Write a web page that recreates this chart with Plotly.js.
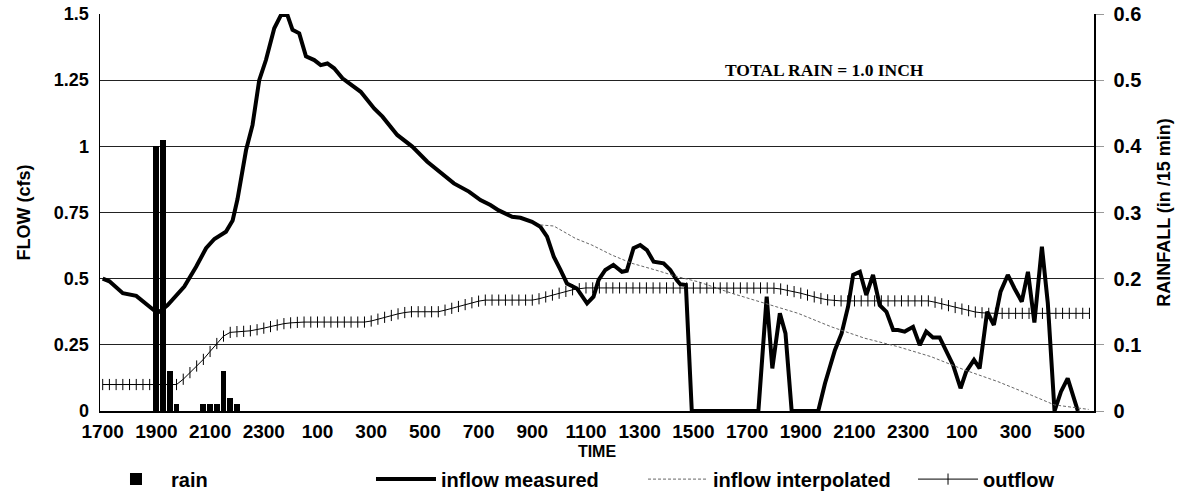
<!DOCTYPE html>
<html><head><meta charset="utf-8">
<script src="https://cdn.plot.ly/plotly-3.0.1.min.js"></script>
<style>html,body{margin:0;padding:0;background:#fff}#chart{width:1177px;height:497px}</style>
</head><body><div id="chart"></div>
<script>
// Time axis: hours after 17:00 on day 1
const timeLabelHours = [0,2,4,6,8,10,12,14,16,18,20,22,24,26,28,30,32,34,36];
const timeLabels = ['1700','1900','2100','2300','100','300','500','700','900','1100','1300','1500','1700','1900','2100','2300','100','300','500'];

const flowTickVals = [0,0.25,0.5,0.75,1,1.25,1.5];
const flowTickText = ['0','0.25','0.5','0.75','1','1.25','1.5'];
const rainTickVals = [0,0.1,0.2,0.3,0.4,0.5,0.6];
const rainTickText = ['0','0.1','0.2','0.3','0.4','0.5','0.6'];

// Rain (in / 15 min)
const rainHours = [2.0,2.25,2.5,2.75,3.75,4.0,4.25,4.5,4.75,5.0];
const rainValues = [0.40,0.41,0.06,0.01,0.01,0.01,0.01,0.06,0.02,0.01];

// Inflow measured (cfs)
const inflowMeasuredHours = [0.00,0.25,0.75,1.25,1.92,2.12,2.42,3.04,3.48,3.85,4.16,4.59,4.84,5.02,5.34,5.58,5.83,6.08,6.39,6.64,6.88,7.07,7.32,7.57,7.88,8.12,8.37,8.62,8.93,9.18,9.61,10.11,10.42,10.97,11.53,12.09,12.65,13.08,13.64,14.07,14.44,14.75,15.25,15.56,15.99,16.30,16.55,16.80,17.05,17.29,17.66,18.04,18.28,18.47,18.72,19.02,19.34,19.52,19.77,20.02,20.27,20.52,20.89,21.14,21.38,21.51,21.72,21.94,24.42,24.73,24.94,25.22,25.43,25.66,26.65,26.90,27.27,27.52,27.76,27.95,28.20,28.44,28.69,28.94,29.19,29.44,29.62,29.87,30.18,30.43,30.67,30.92,31.17,31.42,31.67,31.95,32.16,32.45,32.66,32.94,33.19,33.44,33.71,33.96,34.23,34.46,34.70,34.98,35.20,35.45,35.69,35.94,36.32];
const inflowMeasuredValues = [0.50,0.49,0.445,0.435,0.38,0.375,0.40,0.47,0.545,0.615,0.65,0.677,0.72,0.80,0.986,1.08,1.25,1.326,1.446,1.496,1.496,1.44,1.427,1.34,1.326,1.307,1.313,1.295,1.257,1.238,1.206,1.143,1.112,1.043,0.999,0.942,0.898,0.86,0.829,0.797,0.778,0.758,0.734,0.73,0.715,0.696,0.659,0.583,0.533,0.482,0.463,0.407,0.432,0.495,0.533,0.552,0.526,0.53,0.615,0.627,0.608,0.564,0.558,0.533,0.495,0.479,0.476,0,0,0.432,0.161,0.369,0.293,0,0,0.104,0.23,0.293,0.394,0.514,0.526,0.438,0.514,0.40,0.375,0.306,0.306,0.30,0.318,0.249,0.30,0.278,0.278,0.23,0.174,0.086,0.149,0.193,0.161,0.375,0.325,0.451,0.514,0.463,0.413,0.526,0.334,0.621,0.407,0,0.073,0.123,0];

// Inflow interpolated (cfs)
const inflowInterpHours = [16.30,16.80,17.61,18.22,18.97,19.71,20.58,21.42,22.19,23.42,24.66,25.90,27.14,28.38,29.62,30.86,32.10,33.34,34.58,35.45,36.72];
const inflowInterpValues = [0.703,0.699,0.652,0.627,0.589,0.558,0.533,0.507,0.488,0.445,0.407,0.369,0.318,0.275,0.243,0.205,0.155,0.111,0.06,0.023,0.006];

// Outflow (cfs), one reading every 15 minutes from 17:00
const outflowValues = [
0.100,0.100,0.100,0.100,0.100,0.100,0.100,0.100,0.100,0.100,0.100,0.100,
0.120,0.145,0.170,0.195,0.225,0.255,0.283,0.297,0.300,0.301,0.303,0.307,
0.313,0.319,0.325,0.330,0.333,0.335,
0.336,0.336,0.336,0.336,0.336,0.336,0.336,0.336,0.336,0.336,
0.340,0.347,0.354,0.361,0.367,0.372,0.375,
0.375,0.375,0.375,0.375,
0.381,0.388,0.395,0.402,0.409,0.415,
0.419,0.419,0.419,0.419,0.419,0.419,0.419,0.419,
0.424,0.431,0.438,0.445,0.452,0.458,0.462,
0.465,0.465,0.465,0.465,0.465,0.465,0.465,0.465,0.465,0.465,0.465,0.465,0.465,0.465,
0.465,0.465,0.465,0.465,0.465,0.465,0.465,0.465,0.465,0.465,0.465,0.465,0.465,0.465,
0.464,0.461,0.456,0.451,0.445,0.438,0.431,0.425,0.420,0.417,
0.416,0.416,0.416,0.416,0.416,0.416,0.416,0.416,0.416,0.416,0.416,0.416,0.416,0.416,
0.411,0.405,0.398,0.391,0.385,0.379,0.374,0.371,
0.369,0.369,0.369,0.369,0.369,0.369,0.369,0.369,0.369,0.369,0.369,0.369,0.369,0.369,0.369,0.369];
const outflowHours = outflowValues.map((v, i) => i * 0.25);

const FONT = 'Liberation Sans, Arial, sans-serif';

const traces = [
  { type:'bar', name:'rain', x:rainHours, y:rainValues, yaxis:'y', width:0.22,
    marker:{color:'#000', line:{width:0}}, legend:'legend' },
  { type:'scatter', mode:'lines', name:'inflow measured', x:inflowMeasuredHours, y:inflowMeasuredValues,
    yaxis:'y2', line:{color:'#000', width:4}, legend:'legend' },
  { type:'scatter', mode:'lines', name:'inflow interpolated', x:inflowInterpHours, y:inflowInterpValues,
    yaxis:'y2', line:{color:'#666', width:1, dash:'3px,2px'}, legend:'legend2' },
  { type:'scatter', mode:'lines+markers', name:'outflow', x:outflowHours, y:outflowValues,
    yaxis:'y2', line:{color:'#000', width:1},
    marker:{symbol:'line-ns', size:8, color:'#000', line:{width:1, color:'#000'}}, legend:'legend2' }
];

const legendCommon = {
  orientation:'h', xanchor:'left', xref:'paper',
  y:0.036, yanchor:'middle', yref:'container',
  font:{family:FONT, size:20, weight:'bold'}, itemwidth:60,
  entrywidth:195, entrywidthmode:'pixels', traceorder:'normal',
  bgcolor:'rgba(0,0,0,0)'
};

const layout = {
  width:1177, height:497,
  margin:{l:100, r:83, t:14, b:86, pad:0, autoexpand:false},
  paper_bgcolor:'#fff', plot_bgcolor:'#fff',
  font:{family:FONT, color:'#000'},
  showlegend:true,
  bargap:0,
  xaxis:{
    range:[-0.1, 36.92], tickmode:'array', tickvals:timeLabelHours, ticktext:timeLabels,
    showgrid:false, zeroline:false, showline:true, linecolor:'#000', linewidth:2,
    ticks:'', ticklabelstandoff:2, tickfont:{family:FONT, size:19, weight:'bold'},
    title:{text:'TIME', font:{family:FONT, size:16, weight:'bold'}, standoff:14}
  },
  yaxis:{
    side:'right', range:[0,0.6], tickmode:'array', tickvals:rainTickVals, ticktext:rainTickText,
    showgrid:true, gridcolor:'#222', gridwidth:1, zeroline:false,
    showline:true, linecolor:'#000', linewidth:1.5,
    ticks:'outside', ticklen:8, tickcolor:'#999', tickwidth:1, ticklabelstandoff:6,
    tickfont:{family:FONT, size:20, weight:'bold'},
    title:{text:'RAINFALL (in /15 min)', font:{family:FONT, size:18, weight:'bold'}, standoff:16}
  },
  yaxis2:{
    side:'left', overlaying:'y', range:[0,1.5], tickmode:'array', tickvals:flowTickVals, ticktext:flowTickText,
    showgrid:false, zeroline:false, showline:true, linecolor:'#000', linewidth:1.5,
    ticks:'', ticklabelstandoff:6,
    tickfont:{family:FONT, size:18, weight:'bold'},
    title:{text:'FLOW (cfs)', font:{family:FONT, size:18, weight:'bold'}, standoff:18}
  },
  legend: Object.assign({}, legendCommon, {x:0.001}),
  legend2: Object.assign({}, legendCommon, {x:0.5463}),
  annotations:[{
    text:'TOTAL RAIN = 1.0 INCH', xref:'paper', yref:'paper', x:0.729, y:0.859,
    xanchor:'center', yanchor:'middle',
    showarrow:false, font:{family:'Liberation Serif, Times New Roman, serif', size:17.5, weight:'bold', color:'#000'}
  }]
};

Plotly.newPlot('chart', traces, layout, {displayModeBar:false, staticPlot:true});
</script>
</body></html>
